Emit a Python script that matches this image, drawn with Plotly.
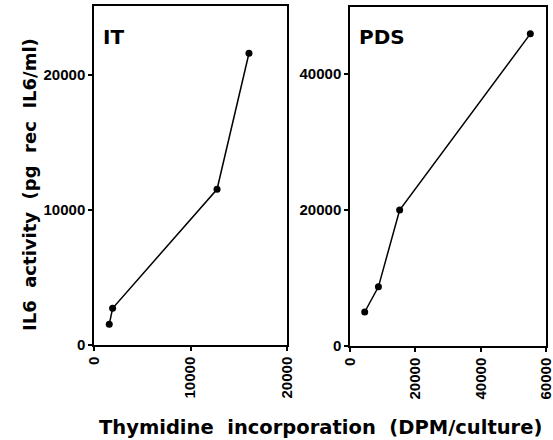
import plotly.graph_objects as go

# IT panel data
it_x = [1580, 1930, 12750, 16060]
it_y = [1530, 2720, 11530, 21600]
# PDS panel data
pds_x = [4500, 8700, 15200, 55200]
pds_y = [5000, 8700, 20000, 45900]

it_xticks = [0, 10000, 20000]
it_yticks = [0, 10000, 20000]
pds_xticks = [0, 20000, 40000, 60000]
pds_yticks = [0, 20000, 40000]

FONT = "DejaVu Sans"
TICKFONT = "Liberation Sans"

fig = go.Figure()
fig.add_trace(go.Scatter(x=it_x, y=it_y, mode="lines+markers",
                         line=dict(color="black", width=1.5),
                         marker=dict(color="black", size=7),
                         xaxis="x", yaxis="y", showlegend=False))
fig.add_trace(go.Scatter(x=pds_x, y=pds_y, mode="lines+markers",
                         line=dict(color="black", width=1.5),
                         marker=dict(color="black", size=7),
                         xaxis="x2", yaxis="y2", showlegend=False))

axis_common = dict(showline=True, linecolor="black", linewidth=1.5, mirror=True,
                   ticks="outside", ticklen=4, tickwidth=1.5, tickcolor="black",
                   showgrid=False, zeroline=False, automargin=False,
                   ticklabeloverflow="allow",
                   tickfont=dict(family=TICKFONT, size=15, color="black", weight="bold"))

fig.update_layout(
    width=553, height=440,
    margin=dict(l=0, r=0, t=0, b=0),
    paper_bgcolor="white", plot_bgcolor="white",
    xaxis=dict(domain=[94/553, 287/553], range=[0, 20000], tickvals=it_xticks,
               ticktext=[str(v) for v in it_xticks],
               tickangle=-90, anchor="y", **axis_common),
    yaxis=dict(domain=[95/440, 434/440], range=[0, 25100], tickvals=it_yticks,
               ticktext=[str(v) for v in it_yticks], anchor="x", **axis_common),
    xaxis2=dict(domain=[350/553, 546/553], range=[0, 60000], tickvals=pds_xticks,
                ticktext=[str(v) for v in pds_xticks],
                tickangle=-90, anchor="y2", **axis_common),
    yaxis2=dict(domain=[94/440, 433/440], range=[0, 49850], tickvals=pds_yticks,
                ticktext=[str(v) for v in pds_yticks], anchor="x2", **axis_common),
    annotations=[
        dict(text="<b>IT</b>", xref="paper", yref="paper", x=101/553, y=(440-23)/440,
             xanchor="left", yanchor="top", showarrow=False,
             font=dict(family=FONT, size=20, color="black")),
        dict(text="<b>PDS</b>", xref="paper", yref="paper", x=357/553, y=(440-23)/440,
             xanchor="left", yanchor="top", showarrow=False,
             font=dict(family=FONT, size=20, color="black")),
        dict(text="<b>Thymidine  incorporation  (DPM/culture)</b>", xref="paper", yref="paper",
             x=320/553, y=(440-427)/440, xanchor="center", yanchor="middle", showarrow=False,
             font=dict(family=FONT, size=19.5, color="black")),
        dict(text="<b>IL6  activity  (pg  rec  IL6/ml)</b>", xref="paper", yref="paper",
             x=30/553, y=(440-185)/440, xanchor="center", yanchor="middle", showarrow=False,
             textangle=-90, font=dict(family=FONT, size=18, color="black")),
    ],
)

fig.write_html("out.html", config={"displayModeBar": False},
               post_script="document.body.style.margin='0';document.body.style.padding='0';")
